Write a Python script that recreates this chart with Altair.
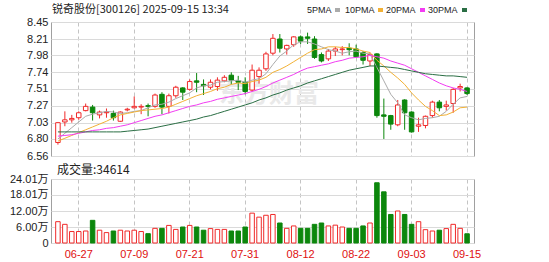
import altair as alt
import pandas as pd

# ---------------- data ----------------
dates = ["06-24", "06-25", "06-26", "06-27", "06-30",
         "07-01", "07-02", "07-03", "07-04", "07-07", "07-08", "07-09", "07-10", "07-11",
         "07-14", "07-15", "07-16", "07-17", "07-18", "07-21", "07-22", "07-23", "07-24", "07-25",
         "07-28", "07-29", "07-30", "07-31", "08-01", "08-04", "08-05", "08-06", "08-07", "08-08",
         "08-11", "08-12", "08-13", "08-14", "08-15", "08-18", "08-19", "08-20", "08-21", "08-22",
         "08-25", "08-26", "08-27", "08-28", "08-29", "09-01", "09-02", "09-03", "09-04", "09-05",
         "09-08", "09-09", "09-10", "09-11", "09-12", "09-15"]

opens = [6.75, 7.04, 7.07, 7.10, 7.20, 7.25, 7.14, 7.17, 7.16, 7.05,
         7.21, 7.24, 7.25, 7.27, 7.26, 7.43, 7.26, 7.41, 7.52, 7.50,
         7.62, 7.57, 7.53, 7.54, 7.62, 7.70, 7.62, 7.60, 7.49, 7.68,
         7.79, 8.01, 8.21, 8.07, 8.13, 8.24, 8.24, 8.21, 7.99, 7.93,
         8.04, 8.06, 8.08, 8.07, 8.02, 7.90, 8.00, 7.14, 7.13, 7.00,
         7.35, 7.18, 6.98, 6.99, 7.13, 7.32, 7.26, 7.30, 7.52, 7.52]
highs = [7.04, 7.19, 7.14, 7.19, 7.30, 7.28, 7.20, 7.23, 7.20, 7.19,
         7.24, 7.40, 7.29, 7.30, 7.44, 7.46, 7.44, 7.55, 7.53, 7.64,
         7.73, 7.64, 7.64, 7.67, 7.70, 7.74, 7.69, 7.67, 7.85, 7.81,
         8.03, 8.28, 8.28, 8.13, 8.25, 8.26, 8.30, 8.25, 8.02, 8.07,
         8.10, 8.11, 8.15, 8.13, 8.04, 8.02, 8.01, 7.37, 7.14, 7.35,
         7.36, 7.19, 7.10, 7.13, 7.34, 7.35, 7.34, 7.52, 7.58, 7.53]
lows = [6.72, 6.98, 7.03, 7.07, 7.19, 7.06, 7.09, 7.10, 7.06, 7.04,
        7.19, 7.23, 7.15, 7.12, 7.24, 7.15, 7.16, 7.38, 7.35, 7.48,
        7.46, 7.42, 7.50, 7.48, 7.60, 7.57, 7.49, 7.43, 7.47, 7.58,
        7.76, 7.98, 8.02, 7.99, 8.10, 8.14, 8.14, 7.93, 7.88, 7.90,
        7.97, 7.98, 7.98, 7.95, 7.85, 7.83, 7.10, 6.80, 6.93, 6.98,
        6.93, 6.89, 6.90, 6.95, 7.10, 7.19, 7.20, 7.17, 7.47, 7.42]
closes = [7.03, 7.07, 7.09, 7.17, 7.26, 7.17, 7.18, 7.18, 7.10, 7.18,
          7.22, 7.26, 7.26, 7.26, 7.42, 7.25, 7.41, 7.53, 7.46, 7.61,
          7.60, 7.55, 7.60, 7.63, 7.67, 7.63, 7.60, 7.47, 7.77, 7.77,
          8.00, 8.22, 8.08, 8.12, 8.24, 8.18, 8.22, 7.95, 7.90, 8.04,
          8.07, 8.07, 8.06, 7.96, 7.91, 7.99, 7.13, 7.12, 7.01, 7.28,
          7.17, 6.90, 7.00, 7.12, 7.32, 7.24, 7.28, 7.50, 7.54, 7.44]
# volume in 万 (10k)
volumes = [8.0, 7.0, 4.3, 4.3, 4.5, 8.5, 4.8, 3.9, 4.5, 4.8,
           4.5, 4.8, 4.3, 3.5, 5.5, 5.5, 6.6, 5.1, 6.0, 6.6,
           6.0, 4.8, 5.4, 5.1, 5.1, 4.5, 4.5, 6.0, 11.2, 9.7,
           10.4, 10.7, 7.5, 5.5, 6.4, 5.5, 5.5, 7.0, 7.5, 6.4,
           6.7, 6.0, 5.5, 5.5, 6.4, 7.5, 22.6, 19.2, 10.7, 12.0,
           10.7, 7.0, 8.0, 5.0, 4.5, 4.8, 5.4, 7.0, 5.5, 3.4614]

ma5 = [6.80, 6.88, 6.96, 7.04, 7.12, 7.15, 7.17, 7.19, 7.18, 7.16,
       7.17, 7.19, 7.20, 7.24, 7.28, 7.29, 7.32, 7.37, 7.41, 7.45,
       7.52, 7.55, 7.56, 7.60, 7.61, 7.62, 7.63, 7.60, 7.63, 7.65,
       7.72, 7.85, 7.97, 8.04, 8.13, 8.17, 8.17, 8.14, 8.10, 8.06,
       8.04, 8.01, 8.03, 8.04, 8.01, 8.00, 7.81, 7.62, 7.43, 7.31,
       7.14, 7.10, 7.07, 7.09, 7.10, 7.12, 7.19, 7.29, 7.38, 7.40]
ma10 = [6.77, 6.81, 6.85, 6.89, 6.93, 6.97, 7.01, 7.05, 7.10, 7.14,
        7.16, 7.18, 7.20, 7.21, 7.22, 7.23, 7.25, 7.29, 7.33, 7.37,
        7.41, 7.44, 7.47, 7.51, 7.53, 7.57, 7.59, 7.58, 7.61, 7.63,
        7.67, 7.74, 7.78, 7.83, 7.89, 7.95, 8.01, 8.06, 8.07, 8.10,
        8.10, 8.09, 8.09, 8.07, 8.04, 8.02, 7.91, 7.83, 7.74, 7.66,
        7.57, 7.45, 7.35, 7.26, 7.20, 7.13, 7.14, 7.18, 7.24, 7.25]
ma20 = [6.84, 6.85, 6.86, 6.88, 6.90, 6.92, 6.93, 6.95, 6.96, 6.98,
        7.00, 7.03, 7.06, 7.09, 7.12, 7.14, 7.17, 7.20, 7.23, 7.26,
        7.28, 7.31, 7.33, 7.36, 7.38, 7.40, 7.42, 7.44, 7.47, 7.50,
        7.54, 7.59, 7.63, 7.67, 7.71, 7.76, 7.80, 7.82, 7.84, 7.86,
        7.89, 7.91, 7.94, 7.95, 7.96, 7.98, 7.96, 7.94, 7.90, 7.87,
        7.84, 7.79, 7.74, 7.69, 7.64, 7.59, 7.55, 7.52, 7.50, 7.47]
ma30 = [6.90, 6.90, 6.90, 6.90, 6.90, 6.90, 6.90, 6.90, 6.90, 6.90,
        6.91, 6.92, 6.93, 6.94, 6.96, 6.98, 7.00, 7.02, 7.04, 7.06,
        7.08, 7.11, 7.13, 7.16, 7.19, 7.22, 7.25, 7.28, 7.31, 7.35,
        7.38, 7.42, 7.45, 7.49, 7.52, 7.55, 7.59, 7.62, 7.65, 7.68,
        7.71, 7.74, 7.77, 7.79, 7.81, 7.83, 7.83, 7.82, 7.81, 7.80,
        7.78, 7.76, 7.74, 7.72, 7.71, 7.70, 7.69, 7.69, 7.68, 7.67]

ma_names = ["5PMA", "10PMA", "20PMA", "30PMA"]
ma_colors = ["#ababab", "#f2b135", "#f23cf2", "#2a6e44"]

price_ticks = [6.56, 6.80, 7.03, 7.27, 7.51, 7.74, 7.98, 8.21, 8.45]
vol_ticks = [0, 6.00, 12.00, 18.01, 24.01]
x_ticks = ["06-27", "07-09", "07-21", "07-31", "08-12", "08-22", "09-03", "09-15"]

title_text = "锐奇股份[300126] 2025-09-15 13:34"
watermark = "东方财富"

# ---------------- tables ----------------
df = pd.DataFrame({"date": dates, "open": opens, "high": highs, "low": lows,
                   "close": closes, "vol": volumes})
ma_df = pd.concat([
    pd.DataFrame({"date": dates, "value": vals, "ma": name})
    for name, vals in zip(ma_names, [ma5, ma10, ma20, ma30])
])
one = pd.DataFrame({"a": [0]})

RED = "#f02a2a"
GREEN = "#0c870c"
UP = "datum.close >= datum.open"
NUM_FONT = "Liberation Sans, Noto Sans CJK SC"
CJK_FONT = "Noto Sans CJK SC"

W = 423
H_PRICE = 134
H_VOL = 64

xscale = alt.Scale(type="band", domain=dates, paddingInner=0, paddingOuter=0.5)
grid_x = dict(grid=True, gridColor="#c4c4c4", gridDash=[4, 3], bandPosition=0.5,
              ticks=False, domain=False)
x_top = alt.X("date:N", scale=xscale, title=None,
              axis=alt.Axis(values=x_ticks, labels=False, **grid_x))
x_bot = alt.X("date:N", scale=xscale, title=None,
              axis=alt.Axis(values=x_ticks, labelColor="#e01010", labelFontSize=11,
                            labelFont=NUM_FONT, labelAngle=0, labelPadding=5, **grid_x))

pscale = alt.Scale(domain=[6.56, 8.45], nice=False, zero=False)
paxis = alt.Axis(values=price_ticks, format=".2f", grid=True, gridColor="#dadada",
                 ticks=False, domain=False, labelPadding=3, labelFontSize=11,
                 labelColor="#222222", labelFont=NUM_FONT, labelFlush=False,
                 labelOverlap=False)


def py(field):
    return alt.Y(field, scale=pscale, axis=paxis, title=None)


wm = alt.Chart(one).mark_text(text=watermark, fontSize=25, fontWeight="bold",
                              color="#e9e9e9", font=CJK_FONT).encode(
    x=alt.value(218), y=alt.value(72))

wick = alt.Chart(df).mark_rule(strokeWidth=1).encode(
    x=x_top, y=py("low:Q"), y2="high:Q",
    color=alt.condition(UP, alt.value(RED), alt.value(GREEN)))

body = alt.Chart(df).mark_bar(size=4.5, strokeWidth=1).encode(
    x=x_top, y=py("open:Q"), y2="close:Q",
    fill=alt.condition(UP, alt.value("white"), alt.value(GREEN)),
    stroke=alt.condition(UP, alt.value(RED), alt.value(GREEN)))

ma_lines = alt.Chart(ma_df).mark_line(strokeWidth=1).encode(
    x=x_top, y=py("value:Q"),
    color=alt.Color("ma:N", scale=alt.Scale(domain=ma_names, range=ma_colors), legend=None))

title_mark = alt.Chart(one).mark_text(text=title_text, align="left", baseline="middle",
                                      fontSize=11, color="#222222", font=CJK_FONT).encode(
    x=alt.value(1), y=alt.value(-12))

legend_layers = []
legend_x = [256, 294, 335, 377]
legend_sq = [284, 327, 369, 411]
for name, col, tx, sx in zip(ma_names, ma_colors, legend_x, legend_sq):
    legend_layers.append(
        alt.Chart(one).mark_text(text=name, align="left", baseline="middle", fontSize=9,
                                 color="#222222", font="Liberation Sans").encode(
            x=alt.value(tx), y=alt.value(-12)))
    legend_layers.append(
        alt.Chart(one).mark_rect(color=col).encode(
            x=alt.value(sx), x2=alt.value(sx + 5), y=alt.value(-14), y2=alt.value(-10)))

price = alt.layer(wm, wick, body, ma_lines, title_mark, *legend_layers).properties(
    width=W, height=H_PRICE)

vaxis = alt.Axis(values=vol_ticks, grid=True, gridColor="#dadada", ticks=False, domain=False,
                 labelPadding=3, labelFontSize=11, labelColor="#222222", labelFont=NUM_FONT,
                 labelFlush=False, labelOverlap=False,
                 labelExpr="datum.value == 0 ? '0' : format(datum.value, '.2f') + '万'")

vol_bars = alt.Chart(df).mark_bar(size=4.5, strokeWidth=1).encode(
    x=x_bot,
    y=alt.Y("vol:Q", scale=alt.Scale(domain=[0, 24.01], nice=False), axis=vaxis, title=None),
    fill=alt.condition(UP, alt.value("white"), alt.value(GREEN)),
    stroke=alt.condition(UP, alt.value(RED), alt.value(GREEN)))

vol_label = alt.Chart(one).mark_text(
    text="成交量:" + str(int(round(volumes[-1] * 10000))), align="left", baseline="middle",
    fontSize=12, color="#222222", font=CJK_FONT).encode(x=alt.value(6), y=alt.value(-9))

volume = alt.layer(vol_bars, vol_label).properties(width=W, height=H_VOL)

chart = alt.vconcat(price, volume, spacing=23, bounds="flush").properties(
    padding={"left": 8, "top": 3, "right": 5, "bottom": 2},
    background="white",
).configure_view(stroke="#a0a0a0", strokeWidth=1)

chart.save("out.html", embed_options={"renderer": "svg", "actions": False})
